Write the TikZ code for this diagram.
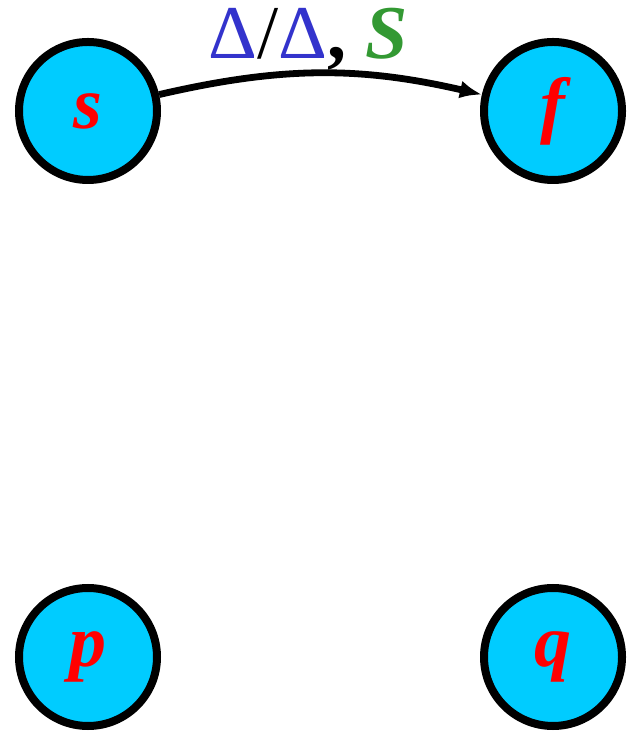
\documentclass[tikz,border=0pt]{standalone}
\usepackage{fontspec}
\setmainfont{Liberation Serif}
\usetikzlibrary{arrows.meta}
\definecolor{statecyan}{RGB}{0,204,255}
\definecolor{deltablue}{RGB}{51,51,204}
\definecolor{vargreen}{RGB}{51,153,51}
\begin{document}
\begin{tikzpicture}[x=0.5pt,y=0.5pt,
  state/.style={circle,draw,line width=4pt,fill=statecyan,minimum size=69pt,inner sep=0pt,text=red,font=\fontsize{37}{40}\selectfont\bfseries\itshape},
  edge/.style={draw,line width=3.4pt,-{Latex[length=11pt,width=9pt]}}]
\useasboundingbox (0,0) rectangle (628,732);
\node [state] (s) at (88,621) {s};
\node [state] (f) at (553,621) {f};
\node [state] (p) at (88,75) {p};
\node [state] (q) at (553,75) {q};
\path [edge] (s) to [bend left=13] node [midway,anchor=base,xshift=-6pt,yshift=7.5pt,inner sep=0pt,font=\fontsize{38}{42}\selectfont]
  {\textcolor{deltablue}{Δ}/\textcolor{deltablue}{Δ}\textbf{,} \textcolor{vargreen}{\bfseries\itshape S}} (f);
\end{tikzpicture}
\end{document}
